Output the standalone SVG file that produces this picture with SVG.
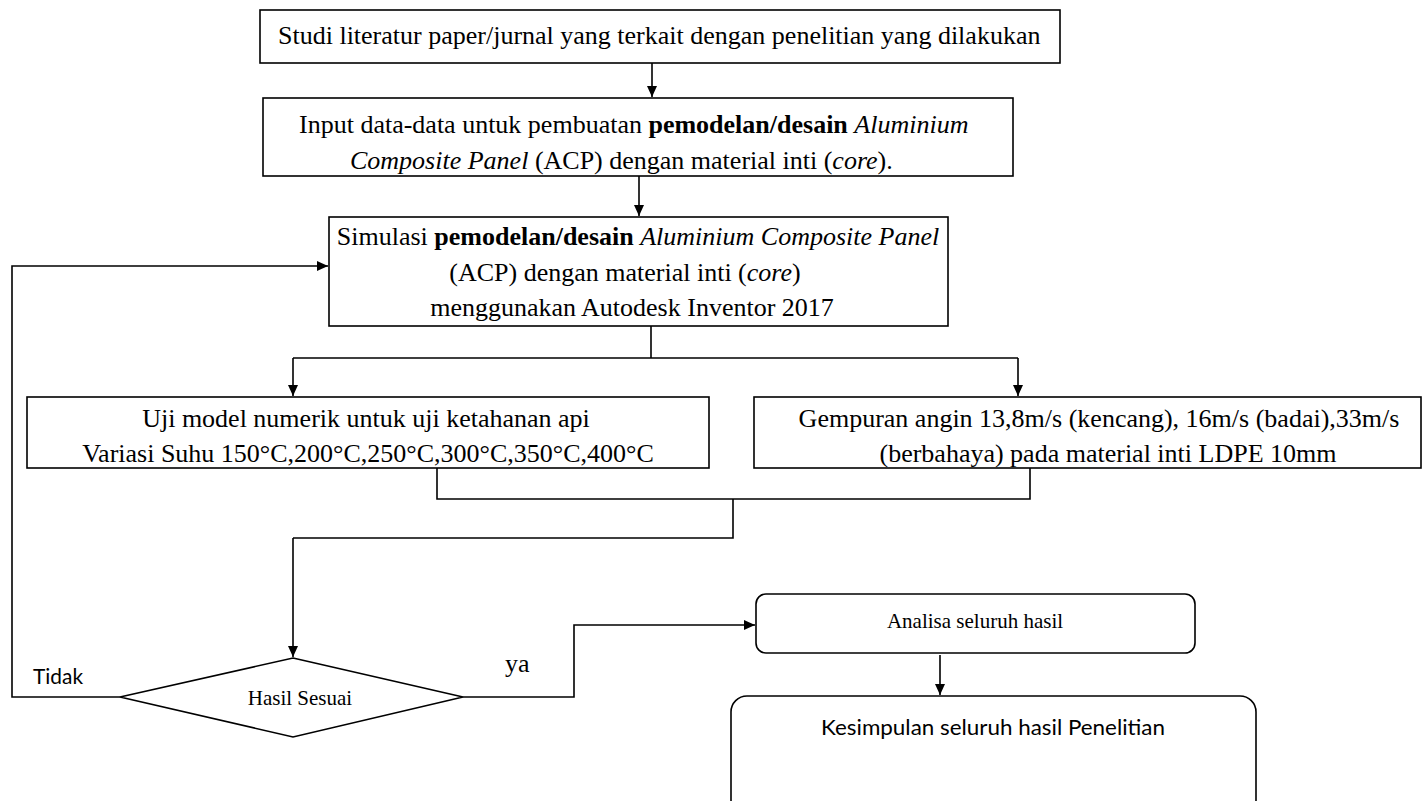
<svg xmlns="http://www.w3.org/2000/svg" width="1425" height="801" viewBox="0 0 1425 801">
<defs>
<marker id="ah" markerUnits="userSpaceOnUse" markerWidth="12" markerHeight="10" refX="11" refY="5" orient="auto">
<path d="M0,0 L11,5 L0,10 z" fill="#000"/>
</marker>
<style>
.box{fill:#fff;stroke:#000;stroke-width:1.6}
.ln{fill:none;stroke:#000;stroke-width:1.6}
.arr{fill:none;stroke:#000;stroke-width:1.6;marker-end:url(#ah)}
.t{font-family:"Liberation Serif","Times New Roman",serif;font-size:26px;fill:#000}
.s{font-family:"Liberation Serif","Times New Roman",serif;font-size:21px;fill:#000}
.c{font-family:Lato,"Liberation Sans",sans-serif;font-size:22px;fill:#000}
.b{font-weight:bold}
.i{font-style:italic}
</style>
</defs>
<rect width="1425" height="801" fill="#fff"/>
<g id="connectors">
<path class="arr" d="M652,63 V97"/>
<path class="arr" d="M639,176 V216"/>
<path class="ln" d="M651,326 V358 M293,358 H1018"/>
<path class="arr" d="M293,358 V396"/>
<path class="arr" d="M1018,358 V396"/>
<path class="ln" d="M437,468 V499 H1030 V468 M733,499 V538 H293"/>
<path class="arr" d="M293,538 V657"/>
<path class="arr" d="M120,697 H12 V266 H328"/>
<path class="arr" d="M463,697 H574 V625 H755"/>
<path class="arr" d="M940,655 V695"/>
</g>
<g id="n1">
<rect class="box" x="260" y="10" width="800" height="53"/>
<text class="t" x="278" y="44">Studi literatur paper/jurnal yang terkait dengan penelitian yang dilakukan</text>
</g>
<g id="n2">
<rect class="box" x="263" y="98" width="750" height="78"/>
<text class="t" x="299" y="133">Input data-data untuk pembuatan <tspan class="b">pemodelan/desain</tspan> <tspan class="i">Aluminium</tspan></text>
<text class="t" x="350" y="169"><tspan class="i">Composite Panel</tspan> (ACP) dengan material inti (<tspan class="i">core</tspan>).</text>
</g>
<g id="n3">
<rect class="box" x="329" y="217" width="619" height="109"/>
<text class="t" x="638" y="245" text-anchor="middle" font-size="24">Simulasi <tspan class="b">pemodelan/desain</tspan> <tspan class="i">Aluminium Composite Panel</tspan></text>
<text class="t" x="625" y="281" text-anchor="middle">(ACP) dengan material inti (<tspan class="i">core</tspan>)</text>
<text class="t" x="632" y="316" text-anchor="middle" font-size="25">menggunakan Autodesk Inventor 2017</text>
</g>
<g id="n4">
<rect class="box" x="27" y="397" width="682" height="71"/>
<text class="t" x="366" y="427" text-anchor="middle">Uji model numerik untuk uji ketahanan api</text>
<text class="t" x="368" y="462" text-anchor="middle">Variasi Suhu 150°C,200°C,250°C,300°C,350°C,400°C</text>
</g>
<g id="n5">
<rect class="box" x="754" y="397" width="667" height="71"/>
<text class="t" x="1099" y="427" text-anchor="middle">Gempuran angin 13,8m/s (kencang), 16m/s (badai),33m/s</text>
<text class="t" x="1108" y="462" text-anchor="middle">(berbahaya) pada material inti LDPE 10mm</text>
</g>
<g id="n6">
<polygon class="box" points="293,658 463,697 293,737 120,697"/>
<text class="s" x="300" y="705" text-anchor="middle">Hasil Sesuai</text>
</g>
<g id="lbl">
<text class="c" x="33" y="684" textLength="50" lengthAdjust="spacingAndGlyphs">Tidak</text>
<text class="t" x="505" y="672" font-size="22">ya</text>
</g>
<g id="n7">
<rect class="box" x="756" y="594" width="439" height="59" rx="10"/>
<text class="s" x="975" y="628" text-anchor="middle">Analisa seluruh hasil</text>
</g>
<g id="n8">
<rect class="box" x="731" y="696" width="525" height="120" rx="16"/>
<text class="c" x="821" y="735" textLength="344" lengthAdjust="spacingAndGlyphs">Kesimpulan seluruh hasil Penelitian</text>
</g>
</svg>
